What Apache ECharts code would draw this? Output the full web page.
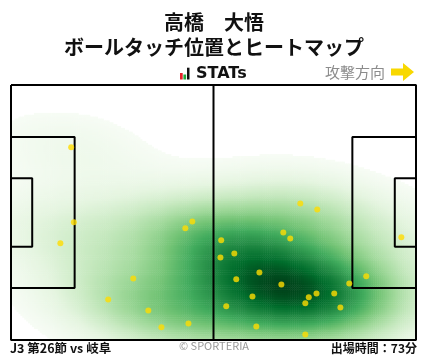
<!DOCTYPE html>
<html><head><meta charset="utf-8">
<script src="https://cdn.jsdelivr.net/npm/echarts@6/dist/echarts.min.js"></script>
<style>html,body{margin:0;padding:0;background:#fff}#c{width:428px;height:359px}</style>
</head><body><div id="c"></div>
<script>
// Ball touch positions (metres, x from own goal, y from top touchline)
const touchX = [15.6,16.3,12.8,47.0,45.2,31.7,25.2,35.6,39.0,46.0,75.0,79.4,70.6,72.4,54.5,57.9,54.3,64.4,58.4,70.1,62.6,77.2,79.2,83.8,76.3,85.4,55.8,63.6,76.3,87.7,92.1,101.2];
const touchY = [16.6,36.6,42.2,36.4,38.2,51.6,57.2,60.1,64.6,63.6,31.6,33.2,39.3,40.9,41.4,44.9,46.0,50.0,51.8,53.2,56.4,56.6,55.6,55.6,58.2,59.3,59.0,64.4,66.5,52.9,51.0,40.6];
// Pitch dimensions (metres)
const pitchLength = 105, pitchWidth = 68;
const penaltyDepth = 16.5, penaltyWidth = 40.32;
const goalAreaDepth = 5.5, goalAreaWidth = 18.32;
// Texts
const titleName = '高橋　大悟';
const titleSub = 'ボールタッチ位置とヒートマップ';
const matchLabel = 'J3 第26節 vs 岐阜';
const minutesLabel = '出場時間：73分';
const creditLabel = '© SPORTERIA';
const directionLabel = '攻撃方向';

// Gaussian KDE (Scott's rule, full covariance) of the touch positions
const bwAdjust = 1.2;
const n = touchX.length;
const mx = touchX.reduce((a,b)=>a+b,0)/n, my = touchY.reduce((a,b)=>a+b,0)/n;
let sxx=0, syy=0, sxy=0;
for (let i=0;i<n;i++){const dx=touchX[i]-mx, dy=touchY[i]-my; sxx+=dx*dx; syy+=dy*dy; sxy+=dx*dy;}
sxx/=(n-1); syy/=(n-1); sxy/=(n-1);
const f2 = Math.pow(n, -2/6)*bwAdjust*bwAdjust;
const cxx=sxx*f2, cyy=syy*f2, cxy=sxy*f2;
const det = cxx*cyy-cxy*cxy;
const ixx=cyy/det, iyy=cxx/det, ixy=-cxy/det;
const cell = 0.5;
const nx = Math.round(pitchLength/cell), ny = Math.round(pitchWidth/cell);
const dens = []; let dmax = 0;
for (let j=0;j<ny;j++){
  for (let i=0;i<nx;i++){
    const x=(i+0.5)*cell, y=(j+0.5)*cell; let s=0;
    for (let k=0;k<n;k++){const dx=x-touchX[k], dy=y-touchY[k]; s+=Math.exp(-0.5*(dx*dx*ixx+2*dx*dy*ixy+dy*dy*iyy));}
    dens.push([i,j,s]); if(s>dmax) dmax=s;
  }
}
const thresh = 0.045;
const heatData = [];
for (const d of dens){const v=d[2]/dmax; if (v>=thresh) heatData.push([d[0],d[1],v]);}
const xCats = Array.from({length:nx},(_,i)=>i), yCats = Array.from({length:ny},(_,i)=>i);

const hw = pitchWidth/2;
const pitchShapes = [
  [[0,0],[pitchLength,0],[pitchLength,pitchWidth],[0,pitchWidth],[0,0]],
  [[pitchLength/2,0],[pitchLength/2,pitchWidth]],
  [[0,hw-penaltyWidth/2],[penaltyDepth,hw-penaltyWidth/2],[penaltyDepth,hw+penaltyWidth/2],[0,hw+penaltyWidth/2]],
  [[0,hw-goalAreaWidth/2],[goalAreaDepth,hw-goalAreaWidth/2],[goalAreaDepth,hw+goalAreaWidth/2],[0,hw+goalAreaWidth/2]],
  [[pitchLength,hw-penaltyWidth/2],[pitchLength-penaltyDepth,hw-penaltyWidth/2],[pitchLength-penaltyDepth,hw+penaltyWidth/2],[pitchLength,hw+penaltyWidth/2]],
  [[pitchLength,hw-goalAreaWidth/2],[pitchLength-goalAreaDepth,hw-goalAreaWidth/2],[pitchLength-goalAreaDepth,hw+goalAreaWidth/2],[pitchLength,hw+goalAreaWidth/2]]
];

const FONT = '"Noto Sans CJK JP", "Noto Sans", sans-serif';
const gridRect = {left:11, top:85, width:405, height:255};
const series = [{
  type:'heatmap', xAxisIndex:1, yAxisIndex:1, data:heatData, progressive:0, silent:true, z:1
}];
pitchShapes.forEach(s=>series.push({
  type:'line', xAxisIndex:0, yAxisIndex:0, data:s, symbol:'none', clip:false, silent:true, z:3,
  lineStyle:{color:'#000', width:2}
}));
series.push({
  type:'scatter', xAxisIndex:0, yAxisIndex:0, data:touchX.map((x,i)=>[x,touchY[i]]),
  symbolSize:6, itemStyle:{color:'#ffdc00'}, silent:true, z:5
});

const chart = echarts.init(document.getElementById('c'), null, {renderer:'canvas'});
chart.setOption({
  animation:false,
  backgroundColor:'#fff',
  title:{text:titleName+'\n'+titleSub, left:'center', top:5,
    textStyle:{fontFamily:FONT, fontSize:20, fontWeight:'bold', color:'#111', lineHeight:25}},
  grid:[Object.assign({}, gridRect), Object.assign({}, gridRect)],
  xAxis:[
    {type:'value', min:0, max:pitchLength, show:false, gridIndex:0},
    {type:'category', data:xCats, show:false, gridIndex:1}
  ],
  yAxis:[
    {type:'value', min:0, max:pitchWidth, inverse:true, show:false, gridIndex:0},
    {type:'category', data:yCats, inverse:true, show:false, gridIndex:1}
  ],
  visualMap:{type:'continuous', show:false, seriesIndex:0, min:thresh, max:1, dimension:2,
    inRange:{color:['#f7fcf5','#e5f5e0','#c7e9c0','#a1d99b','#74c476','#41ab5d','#238b45','#006d2c','#00441b']}},
  graphic:[
    {type:'rect', shape:{x:180,y:73,width:2.7,height:6.5}, style:{fill:'#e8202a'}},
    {type:'rect', shape:{x:183.4,y:74.5,width:2.7,height:5}, style:{fill:'#1faa3c'}},
    {type:'rect', shape:{x:187,y:67.7,width:2.5,height:11.8}, style:{fill:'#111'}},
    {type:'text', x:196, y:73.5, style:{text:'STATs', font:'bold 16px "DejaVu Sans", sans-serif', fill:'#111', textVerticalAlign:'middle'}},
    {type:'text', x:325, y:72, style:{text:directionLabel, font:'15px '+FONT, fill:'#8c8c8c', textVerticalAlign:'middle'}},
    {type:'polygon', shape:{points:[[391,68.5],[403,68.5],[403,63],[414,72],[403,81],[403,75.5],[391,75.5]]}, style:{fill:'#f8d800'}},
    {type:'text', x:10, y:348, style:{text:matchLabel, font:'bold 12.5px '+FONT, fill:'#111', textVerticalAlign:'middle'}},
    {type:'text', x:214, y:346, style:{text:creditLabel, font:'11px '+FONT, fill:'#999', textAlign:'center', textVerticalAlign:'middle'}},
    {type:'text', x:417, y:348, style:{text:minutesLabel, font:'bold 12px '+FONT, fill:'#111', textAlign:'right', textVerticalAlign:'middle'}}
  ],
  series:series
});
</script></body></html>
